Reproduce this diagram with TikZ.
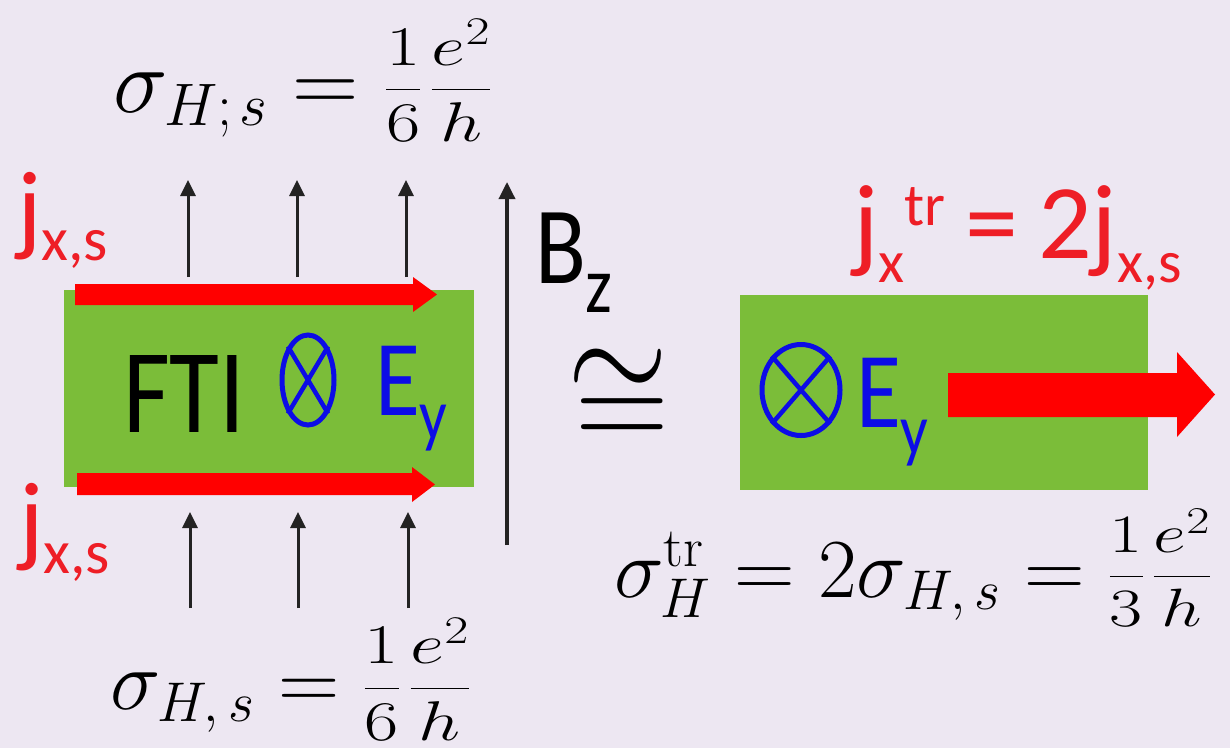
\documentclass[tikz,border=0pt]{standalone}
\usepackage{fix-cm}
\usepackage{fontspec}
\usepackage{graphicx}
\usetikzlibrary{arrows.meta,shapes.geometric}
\newfontfamily\calib[FakeStretch=0.85]{Carlito}
\newfontfamily\calibn{Carlito}
\DeclareMathSizes{92}{92}{60}{42}
\DeclareMathSizes{85}{85}{56}{39}
\DeclareMathSizes{84}{84}{56}{39}
\definecolor{bgc}{RGB}{237,231,242}
\definecolor{fgreen}{RGB}{123,189,57}
\definecolor{jred}{RGB}{255,0,0}
\definecolor{tred}{RGB}{238,30,38}
\definecolor{eblue}{RGB}{12,12,230}
\definecolor{agray}{RGB}{35,35,35}
\newcommand{\fsz}[1]{\fontsize{#1}{#1}\selectfont}
% fraction block: raise, size, denominator digit
\newcommand{\fracblk}[3]{\mbox{\raisebox{#1}{\scalebox{1.33}[1]{\fsz{#2}$\displaystyle\frac{1}{#3}\mkern2mu\frac{e^{2}}{h}$}}}}
\tikzset{
  txt/.style={inner sep=0pt, outer sep=0pt, anchor=base west},
  greenbox/.style={fill=fgreen, draw=none, inner sep=0pt},
  otimesnode/.style={ellipse, draw=eblue, line width=5pt, inner sep=0pt},
  crossline/.style={draw=eblue, line width=4.5pt},
  smallarr/.style={draw=agray, line width=3pt, -{Triangle[width=15pt,length=16pt]}},
  bzarr/.style={draw=agray, line width=3.5pt, -{Triangle[width=16pt,length=17pt]}},
  redarrow/.style={fill=jred, draw=none},
}
\begin{document}
\begin{tikzpicture}[x=1pt,y=-1pt]
\useasboundingbox (0,0) rectangle (1230,748);
\clip (0,0) rectangle (1230,748);
\fill[bgc] (0,0) rectangle (1230,748);

% green boxes
\node[greenbox, minimum width=410pt, minimum height=197pt] (box1) at (269,388.5) {};
\node[greenbox, minimum width=408pt, minimum height=195pt] (box2) at (944,392.5) {};

% red current arrows
\fill[redarrow] (75,284) -- (413,284) -- (413,277) -- (437,294.5) -- (413,312) -- (413,305) -- (75,305) -- cycle;
\fill[redarrow] (77,473) -- (412,473) -- (412,467) -- (435,484.5) -- (412,502) -- (412,495) -- (77,495) -- cycle;
\fill[redarrow] (948,373) -- (1177,373) -- (1177,352) -- (1215,394.5) -- (1177,437) -- (1177,417) -- (948,417) -- cycle;

% small arrows (top)
\foreach \i/\x in {1/188,2/297,3/406}{
  \coordinate (ts\i) at (\x,277);
  \coordinate (te\i) at (\x,180);
  \draw[smallarr] (ts\i) -- (te\i);
}
% small arrows (bottom)
\foreach \i/\x in {1/190,2/298,3/408}{
  \coordinate (bs\i) at (\x,608);
  \coordinate (be\i) at (\x,512);
  \draw[smallarr] (bs\i) -- (be\i);
}
% B_z arrow
\coordinate (bzs) at (507,545);
\coordinate (bze) at (507,182);
\draw[bzarr] (bzs) -- (bze);

% otimes symbols
\node[otimesnode, minimum width=52pt, minimum height=90pt] (ot1) at (308,380) {};
\draw[crossline] (ot1.north west) -- (ot1.south east);
\draw[crossline] (ot1.north east) -- (ot1.south west);
\node[otimesnode, minimum width=78pt, minimum height=91pt] (ot2) at (801,390) {};
\draw[crossline] (ot2.north west) -- (ot2.south east);
\draw[crossline] (ot2.north east) -- (ot2.south west);

% texts
\node[txt, text=black, font={\calib\fsz{120}}] (fti) at (123,432) {FTI};
\node[txt, text=eblue, font={\calib\fsz{108}}] (ey1) at (375,415) {E\raisebox{-24pt}{\fsz{72}y}};
\node[txt, text=eblue, font={\calib\fsz{108}}] (ey2) at (856,427) {E\raisebox{-27pt}{\fsz{72}y}};
\node[txt, text=black, font={\calib\fsz{110}}] (bz) at (535,283) {B\raisebox{-29pt}{\fsz{80}z}};
\node[txt, text=tred, font={\calibn\fsz{102}}] (jtop) at (17,242) {j\raisebox{-18pt}{\fsz{62}x,s}};
\node[txt, text=tred, font={\calibn\fsz{102}}] (jbot) at (19,553) {j\raisebox{-20pt}{\fsz{62}x,s}};
\node[txt, text=tred, font={\calibn\fsz{106}}] (jtr) at (853,258) {j\raisebox{-24pt}{\fsz{60}x}\raisebox{33pt}{\fsz{60}tr}\hspace{20pt}=\hspace{20pt}2j\raisebox{-24pt}{\fsz{60}x,s}};

\node[inner sep=0pt, outer sep=0pt, anchor=base, font=\fsz{130}] (cong) at (622,450) {\scalebox{1}[1.12]{$=$\llap{\raisebox{42pt}{$\sim$}}}};

\node[txt, font=\fsz{92}] (sigtop) at (113,112) {$\sigma_{H;\mkern2mu s}=\fracblk{9pt}{56}{6}$};
\node[txt, font=\fsz{85}] (sigbot) at (110,709) {$\sigma_{H,\mkern3mu s}=\fracblk{7.25pt}{56}{6}$};
\node[txt, font=\fsz{84}] (sigtr) at (614,597) {$\sigma^{\mathrm{tr}}_{H}=2\sigma_{H,\mkern3mu s}=\fracblk{7.5pt}{54}{3}$};
\end{tikzpicture}
\end{document}
